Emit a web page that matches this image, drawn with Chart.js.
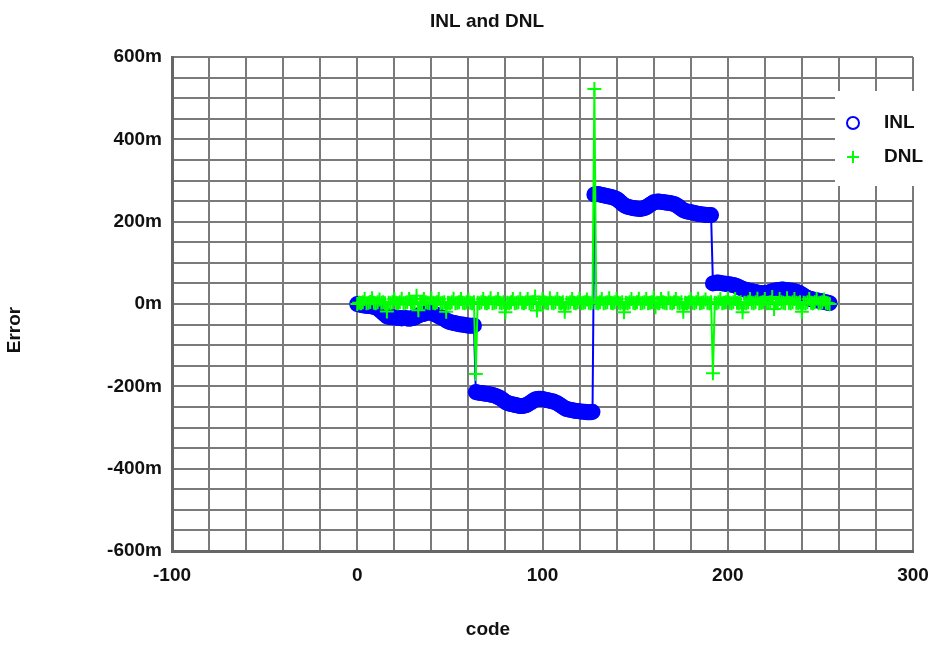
<!DOCTYPE html>
<html>
<head>
<meta charset="utf-8">
<title>INL and DNL</title>
<script src="https://cdn.jsdelivr.net/npm/chart.js@4.4.1/dist/chart.umd.min.js"></script>
<style>
  body { margin: 0; background: #fff; }
  canvas { display: block; }
</style>
</head>
<body>
<canvas id="inlDnlChart" width="951" height="651"></canvas>
<script>
// values in milli-units (axis shows "m")
const inlValues = [
    0, -1, -2, -3, -4, -4, -5, -5, -6, -7, -8, -10, -14, -18, -22, -26,
    -30, -31, -32, -32, -33, -33, -34, -34, -35, -34, -34, -35, -36, -35, -34, -33,
    -30, -28, -26, -25, -24, -22, -21, -20, -21, -23, -25, -27, -30, -32, -34, -36,
    -40, -42, -44, -45, -46, -47, -48, -49, -50, -50, -51, -52, -52, -53, -53, -52,
    -214, -215, -216, -216, -217, -218, -218, -219, -220, -221, -222, -224, -226, -228, -231, -234,
    -238, -240, -242, -243, -244, -245, -246, -247, -248, -248, -247, -246, -244, -241, -238, -235,
    -232, -231, -230, -230, -231, -232, -233, -234, -235, -236, -237, -239, -241, -244, -247, -250,
    -253, -255, -256, -257, -258, -259, -260, -260, -261, -261, -262, -262, -263, -263, -263, -262,
    266, 267, 267, 266, 265, 264, 263, 262, 261, 260, 259, 257, 255, 252, 248, 244,
    240, 238, 236, 235, 234, 233, 232, 232, 231, 231, 232, 233, 235, 238, 241, 244,
    247, 248, 249, 249, 248, 248, 247, 246, 246, 245, 244, 243, 241, 238, 235, 231,
    228, 226, 225, 224, 223, 222, 221, 220, 219, 218, 218, 217, 217, 216, 216, 216,
    50, 51, 52, 52, 51, 50, 50, 49, 48, 48, 47, 46, 45, 43, 41, 39,
    37, 35, 34, 33, 32, 31, 30, 29, 28, 27, 27, 26, 26, 27, 28, 29,
    31, 32, 33, 34, 34, 35, 35, 34, 34, 33, 33, 32, 31, 30, 28, 26,
    23, 20, 17, 15, 13, 12, 11, 10, 9, 8, 7, 6, 5, 4, 3, 2
];

const dnlValues = [
    0, 3, 2, 4, 12, 2, 3, 5, 14, 3, 2, 4, 11, 3, 4, 2,
    -18, 3, 2, 4, 12, 3, 2, 4, 13, 2, 3, 4, 12, 3, 2, 4,
    20, -15, 3, 2, 12, 4, 3, 2, 14, 3, 2, 4, 12, 2, 3, 4,
    -19, 3, 2, 4, 13, 2, 3, 4, 12, 3, 2, 4, 11, 3, 2, 4,
    -170, 3, 2, 4, 12, 3, 2, 4, 14, 2, 3, 4, 12, 3, 2, 4,
    -20, 3, 2, 4, 12, 2, 3, 4, 13, 3, 2, 4, 12, 2, 3, 4,
    18, -16, 3, 2, 12, 4, 3, 2, 14, 3, 2, 4, 12, 3, 2, 4,
    -19, 3, 2, 4, 12, 3, 2, 4, 13, 2, 3, 4, 11, 3, 2, 4,
    522, 3, 2, 4, 12, 2, 3, 4, 14, 3, 2, 4, 12, 3, 2, 4,
    -20, 3, 2, 4, 12, 3, 2, 4, 13, 2, 3, 4, 12, 2, 3, 4,
    16, -8, 3, 2, 12, 4, 3, 2, 14, 3, 2, 4, 12, 3, 2, 4,
    -19, 3, 2, 4, 12, 3, 2, 4, 13, 2, 3, 4, 11, 3, 2, 4,
    -168, 3, 2, 4, 12, 2, 3, 4, 14, 3, 2, 4, 12, 3, 2, 4,
    -20, 3, 2, 4, 12, 3, 2, 4, 13, 2, 3, 4, 12, 2, 3, 4,
    17, -12, 3, 2, 12, 4, 3, 2, 14, 3, 2, 4, 12, 3, 2, 4,
    -19, 3, 2, 4, 12, 3, 2, 4, 13, 2, 3, 4, 11, 3, 2, 0
];

// ADC output codes 0..255
const codes = inlValues.map(function (v, i) { return i; });

const xTickLabels = [-100, 0, 100, 200, 300];
const yTickLabels = [-600, -400, -200, 0, 200, 400, 600];

const FONT = '"Liberation Sans", Arial, sans-serif';
const INL_COLOR = '#0000ff';
const DNL_COLOR = '#00ff00';

const textPlugin = {
    id: 'texts',
    afterDraw: function (chart) {
        const ctx = chart.ctx;
        const area = chart.chartArea;
        ctx.save();
        ctx.fillStyle = '#111';
        ctx.font = 'bold 19px ' + FONT;
        ctx.textAlign = 'center';
        ctx.textBaseline = 'middle';
        ctx.fillText('INL and DNL', 487, 22);
        ctx.fillText('code', 488, 630);

        ctx.save();
        ctx.translate(15, (area.top + area.bottom) / 2 + 26);
        ctx.rotate(-Math.PI / 2);
        ctx.fillText('Error', 0, 0);
        ctx.restore();

        // legend box sitting over the top right corner of the plot
        ctx.fillStyle = '#fff';
        ctx.fillRect(835, 91, 100, 95);

        ctx.strokeStyle = INL_COLOR;
        ctx.lineWidth = 2;
        ctx.beginPath();
        ctx.arc(853, 123, 6, 0, Math.PI * 2);
        ctx.stroke();

        ctx.strokeStyle = DNL_COLOR;
        ctx.beginPath();
        ctx.moveTo(847, 157); ctx.lineTo(859, 157);
        ctx.moveTo(853, 151); ctx.lineTo(853, 163);
        ctx.stroke();

        ctx.fillStyle = '#111';
        ctx.textAlign = 'left';
        ctx.fillText('INL', 884, 123);
        ctx.fillText('DNL', 884, 157);
        ctx.restore();
    }
};

const ctx = document.getElementById('inlDnlChart').getContext('2d');

new Chart(ctx, {
    type: 'line',
    data: {
        labels: codes,
        datasets: [{
            label: 'DNL',
            data: dnlValues,
            order: 0,
            borderColor: DNL_COLOR,
            backgroundColor: DNL_COLOR,
            borderWidth: 2,
            pointStyle: 'cross',
            pointRadius: 7,
            pointBorderWidth: 2,
            pointBorderColor: DNL_COLOR,
            tension: 0
        }, {
            label: 'INL',
            data: inlValues,
            order: 1,
            borderColor: INL_COLOR,
            backgroundColor: INL_COLOR,
            borderWidth: 2,
            pointStyle: 'circle',
            pointRadius: 7,
            pointBorderWidth: 2,
            pointBackgroundColor: INL_COLOR,
            pointBorderColor: INL_COLOR,
            tension: 0
        }]
    },
    options: {
        responsive: false,
        animation: false,
        layout: { padding: { top: 57, right: 38, left: 0, bottom: 0 } },
        plugins: {
            legend: { display: false },
            title: { display: false },
            tooltip: { enabled: false }
        },
        scales: {
            x: {
                type: 'linear',
                min: -100,
                max: 300,
                afterFit: function (scale) { scale.height = 100; },
                border: { color: '#666', width: 3 },
                grid: { color: '#7a7a7a', lineWidth: 2, drawTicks: false },
                ticks: {
                    stepSize: 20,
                    autoSkip: false,
                    maxRotation: 0,
                    padding: 13,
                    color: '#111',
                    font: { family: FONT, size: 19, weight: 'bold' },
                    callback: function (v) { return xTickLabels.includes(v) ? String(v) : ''; }
                }
            },
            y: {
                min: -600,
                max: 600,
                afterFit: function (scale) { scale.width = 172; },
                border: { color: '#666', width: 3 },
                grid: { color: '#7a7a7a', lineWidth: 2, drawTicks: false },
                ticks: {
                    stepSize: 50,
                    autoSkip: false,
                    padding: 10,
                    color: '#111',
                    font: { family: FONT, size: 19, weight: 'bold' },
                    callback: function (v) { return yTickLabels.includes(v) ? v + 'm' : ''; }
                }
            }
        }
    },
    plugins: [textPlugin]
});
</script>
</body>
</html>
